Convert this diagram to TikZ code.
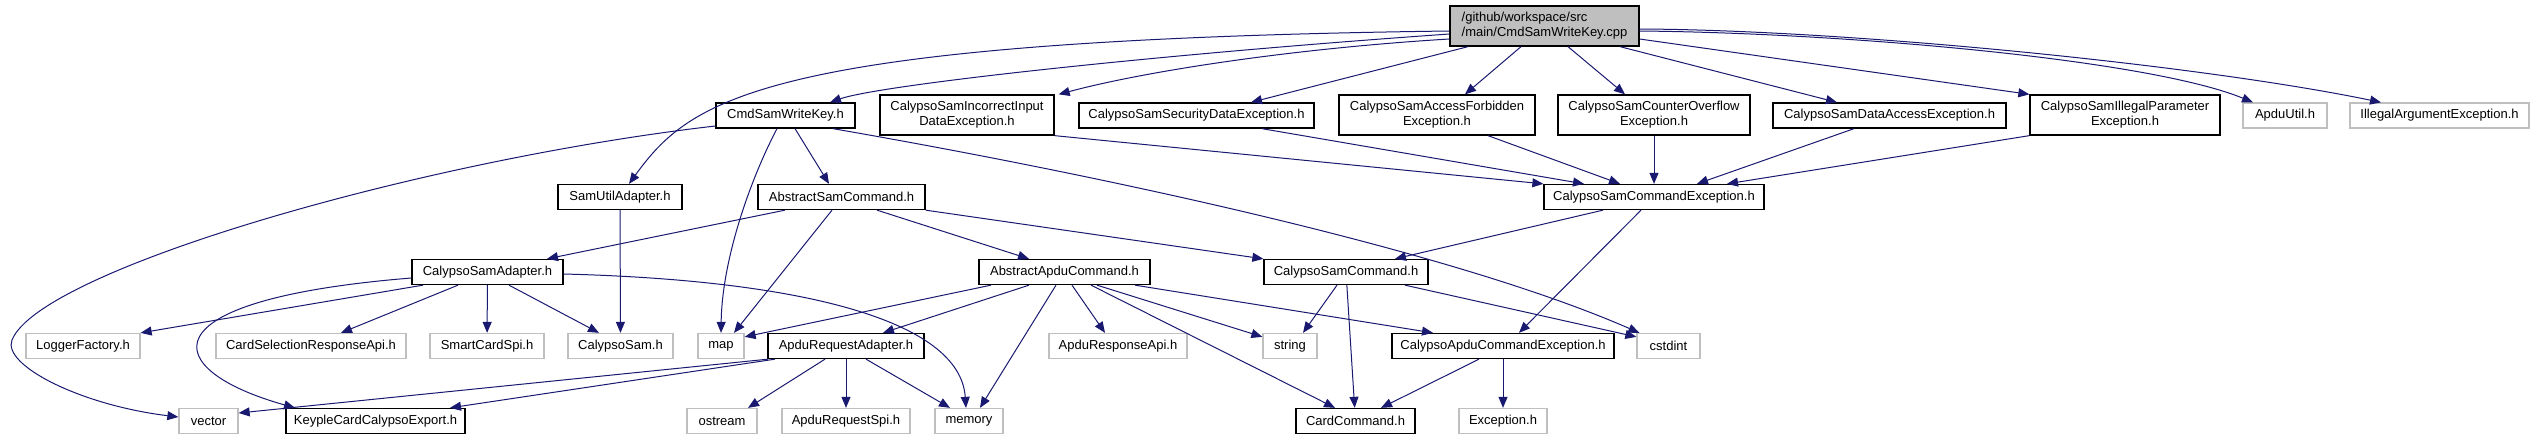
\documentclass[tikz,border=0pt]{standalone}
\usepackage{fontspec}
\setmainfont{Liberation Sans}
\usetikzlibrary{arrows.meta}
\definecolor{edgeblue}{HTML}{191970}
\definecolor{extgray}{HTML}{BFBFBF}

\begin{document}
\begin{tikzpicture}[
  x=1pt, y=-1pt,
  box/.style={draw=black,line width=1.3pt,inner xsep=3pt,inner ysep=2pt,
              minimum height=25pt,align=center,font=\fontsize{13}{15}\selectfont},
  ext/.style={box,draw=extgray},
  two/.style={minimum height=40pt},
  arr/.style={-{Triangle[length=11pt,width=9pt]},line width=1pt,color=edgeblue}
]
  \useasboundingbox (0,0) rectangle (2534,440);

  % top rows
  \node[box,two,fill=extgray,align=left,minimum width=189pt] (cpp) at (1544.5,26)
       {/github/workspace/src\\/main/CmdSamWriteKey.cpp};
  \node[box,minimum width=139pt] (cmdkey) at (785.5,115.5) {CmdSamWriteKey.h};
  \node[box,two,minimum width=174pt] (incorrect) at (967,115) {CalypsoSamIncorrectInput\\DataException.h};
  \node[box,minimum width=235pt] (security) at (1196.5,115.5) {CalypsoSamSecurityDataException.h};
  \node[box,two,minimum width=196pt] (forbidden) at (1437,115) {CalypsoSamAccessForbidden\\Exception.h};
  \node[box,two,minimum width=192pt] (overflow) at (1654,115) {CalypsoSamCounterOverflow\\Exception.h};
  \node[box,minimum width=233pt] (dataaccess) at (1889.5,115.5) {CalypsoSamDataAccessException.h};
  \node[box,two,minimum width=190pt] (illegalparam) at (2125,115) {CalypsoSamIllegalParameter\\Exception.h};
  \node[ext,minimum width=84pt] (apduutil) at (2285,115.5) {ApduUtil.h};
  \node[ext,minimum width=179pt] (illegalarg) at (2439.5,115.5) {IllegalArgumentException.h};

  \node[box,minimum width=124pt] (samutil) at (620,197) {SamUtilAdapter.h};
  \node[box,minimum width=167pt] (abssam) at (841.5,197) {AbstractSamCommand.h};
  \node[box,minimum width=220pt] (csce) at (1654,197) {CalypsoSamCommandException.h};

  \node[box,minimum width=151pt] (adapter) at (487.5,272) {CalypsoSamAdapter.h};
  \node[box,minimum width=171pt] (absapdu) at (1064.5,272) {AbstractApduCommand.h};
  \node[box,minimum width=164pt] (samcmd) at (1346,272) {CalypsoSamCommand.h};

  % lower rows
  \node[ext,minimum width=114pt] (logger) at (83,346) {LoggerFactory.h};
  \node[ext,minimum width=190pt] (cardsel) at (311,346) {CardSelectionResponseApi.h};
  \node[ext,minimum width=114pt] (smartcard) at (487,346) {SmartCardSpi.h};
  \node[ext,minimum width=105pt] (calypsosam) at (620.5,346) {CalypsoSam.h};
  \node[ext,minimum width=46pt] (map) at (721,346) {map};
  \node[box,minimum width=156pt] (apdureq) at (846,346) {ApduRequestAdapter.h};
  \node[ext,minimum width=138pt] (apduresp) at (1118,346) {ApduResponseApi.h};
  \node[ext,minimum width=54pt] (string) at (1290,346) {string};
  \node[box,minimum width=222pt] (apduexc) at (1503,346) {CalypsoApduCommandException.h};
  \node[ext,minimum width=63pt] (cstdint) at (1668.5,346) {cstdint};

  \node[ext,minimum width=59pt] (vector) at (208.5,421) {vector};
  \node[box,minimum width=179pt] (export) at (375.5,421) {KeypleCardCalypsoExport.h};
  \node[ext,minimum width=70pt] (ostream) at (722,421) {ostream};
  \node[ext,minimum width=128pt] (apdureqspi) at (846,421) {ApduRequestSpi.h};
  \node[ext,minimum width=68pt] (memory) at (969,421) {memory};
  \node[box,minimum width=119pt] (cardcmd) at (1355.5,421) {CardCommand.h};
  \node[ext,minimum width=88pt] (exception) at (1503,421) {Exception.h};

  % includes of the source file
  \draw[arr] ([yshift=-5pt]cpp.west) .. controls (760,40) and (690,100) .. ([xshift=9pt]samutil.north);
  \draw[arr] ([yshift=-8pt]cpp.west) .. controls (1150,55) and (880,85) .. ([xshift=44.5pt]cmdkey.north);
  \draw[arr] ([yshift=-13pt]cpp.west) .. controls (1300,48) and (1150,70) .. ([xshift=4pt]incorrect.north east);
  \draw[arr] ([xshift=-76.5pt]cpp.south) -- ([xshift=54.5pt]security.north);
  \draw[arr] ([xshift=-23.5pt]cpp.south) -- ([xshift=28pt]forbidden.north);
  \draw[arr] ([xshift=23.5pt]cpp.south) -- ([xshift=-29pt]overflow.north);
  \draw[arr] ([xshift=75.5pt]cpp.south) -- ([xshift=-52.5pt]dataaccess.north);
  \draw[arr] ([yshift=-13pt]cpp.east) -- (illegalparam.north west);
  \draw[arr] ([yshift=-5pt]cpp.east) .. controls (1850,33) and (2150,60) .. ([xshift=-32pt]apduutil.north);
  \draw[arr] ([yshift=-3pt]cpp.east) .. controls (1850,30) and (2200,65) .. ([xshift=-58.5pt]illegalarg.north);

  % CmdSamWriteKey.h
  \draw[arr] ([yshift=-10.5pt]cmdkey.west) .. controls (420,160) and (40,270) .. (12,340)
             .. controls (2,365) and (80,405) .. ([yshift=4pt]vector.west);
  \draw[arr] ([xshift=-8.5pt]cmdkey.south) .. controls (750,180) and (722,260) .. (map.north);
  \draw[arr] ([xshift=9.5pt]cmdkey.south) -- ([xshift=-12.5pt]abssam.north);
  \draw[arr] ([xshift=47.5pt]cmdkey.south) .. controls (1100,175) and (1450,250) .. ([xshift=3pt]cstdint.north west);

  \draw[arr] (samutil) -- (calypsosam);

  % AbstractSamCommand.h
  \draw[arr] ([xshift=-56.5pt]abssam.south) -- ([xshift=59.5pt]adapter.north);
  \draw[arr] ([xshift=-9.5pt]abssam.south) -- ([xshift=13pt]map.north);
  \draw[arr] ([xshift=35.5pt]abssam.south) -- ([xshift=-35.5pt]absapdu.north);
  \draw[arr] (abssam.south east) -- (samcmd.north west);

  % CalypsoSamAdapter.h
  \draw[arr] ([xshift=-64.5pt]adapter.south) -- (logger.north east);
  \draw[arr] ([xshift=-29.5pt]adapter.south) -- ([xshift=30pt]cardsel.north);
  \draw[arr] (adapter) -- (smartcard);
  \draw[arr] ([xshift=21.5pt]adapter.south) -- ([xshift=-21.5pt]calypsosam.north);
  \draw[arr] ([yshift=-6pt]adapter.west) .. controls (140,300) and (160,370) .. ([xshift=-80.5pt]export.north);
  \draw[arr] ([yshift=-2pt]adapter.east) .. controls (800,280) and (960,320) .. ([xshift=-3pt]memory.north);

  % AbstractApduCommand.h
  \draw[arr] ([xshift=-73.5pt]absapdu.south) -- ([yshift=-4pt]map.north east);
  \draw[arr] ([xshift=-35.5pt]absapdu.south) -- ([xshift=37pt]apdureq.north);
  \draw[arr] ([xshift=-8.5pt]absapdu.south) -- ([xshift=11pt]memory.north);
  \draw[arr] ([xshift=7.5pt]absapdu.south) -- ([xshift=-13pt]apduresp.north);
  \draw[arr] ([xshift=32.5pt]absapdu.south) -- ([yshift=-4pt]string.north west);
  \draw[arr] ([xshift=26.5pt]absapdu.south) -- ([xshift=-20.5pt]cardcmd.north);
  \draw[arr] ([xshift=70.5pt]absapdu.south) -- ([xshift=-70pt]apduexc.north);

  % CalypsoSamCommand.h
  \draw[arr] ([xshift=-9pt]samcmd.south) -- ([xshift=13pt]string.north);
  \draw[arr] (samcmd) -- (cardcmd);
  \draw[arr] ([xshift=59pt]samcmd.south) -- ([yshift=-4pt]cstdint.north west);

  % exceptions
  \draw[arr] ([xshift=-51pt]csce.south) -- ([xshift=49pt]samcmd.north);
  \draw[arr] ([xshift=-13pt]csce.south) -- ([xshift=16pt]apduexc.north);
  \draw[arr] (incorrect.south east) -- (csce.north west);
  \draw[arr] ([xshift=65.5pt]security.south) -- ([xshift=-70pt]csce.north);
  \draw[arr] ([xshift=51pt]forbidden.south) -- ([xshift=-34pt]csce.north);
  \draw[arr] (overflow) -- (csce);
  \draw[arr] ([xshift=-35.5pt]dataaccess.south) -- ([xshift=43pt]csce.north);
  \draw[arr] (illegalparam.south west) -- ([xshift=73pt]csce.north);

  % ApduRequestAdapter.h
  \draw[arr] ([xshift=-78pt]apdureq.south) -- ([yshift=8pt]vector.east);
  \draw[arr] ([xshift=-71pt]apdureq.south) -- ([xshift=74.5pt]export.north);
  \draw[arr] ([xshift=-21pt]apdureq.south) -- ([xshift=26pt]ostream.north);
  \draw[arr] (apdureq) -- (apdureqspi);
  \draw[arr] ([xshift=20pt]apdureq.south) -- ([xshift=-19pt]memory.north);

  \draw[arr] ([xshift=-24pt]apduexc.south) -- ([xshift=25.5pt]cardcmd.north);
  \draw[arr] (apduexc) -- (exception);
\end{tikzpicture}
\end{document}
